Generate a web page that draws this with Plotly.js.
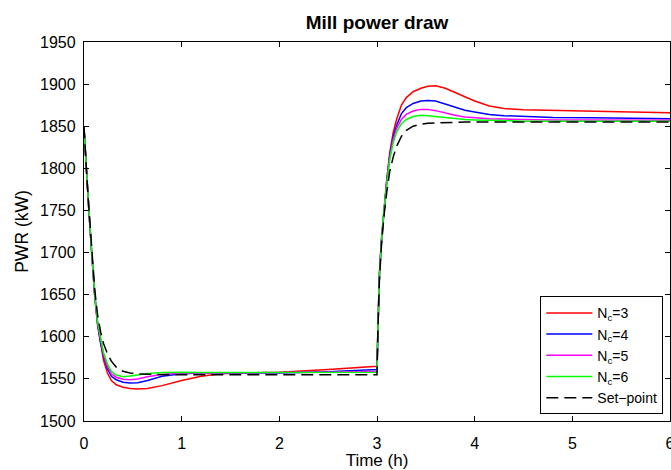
<!DOCTYPE html>
<html>
<head>
<meta charset="utf-8">
<script src="https://cdn.plot.ly/plotly-3.0.1.min.js"></script>
<style>html,body{margin:0;padding:0;background:#fff;}#chart{width:671px;height:470px;}</style>
</head>
<body>
<div id="chart"></div>
<script>
// Time axis (h)
const time = [0, 0.01, 0.03, 0.05, 0.08, 0.11, 0.14, 0.17, 0.20, 0.24, 0.28, 0.33, 0.40, 0.47, 0.55, 0.65, 0.80,
  1.0, 1.2, 1.4, 1.6, 2.0, 2.5, 3.0,
  3.01, 3.025, 3.045, 3.07, 3.1, 3.13, 3.165, 3.2, 3.25, 3.3, 3.37, 3.45, 3.52, 3.6, 3.7, 3.8, 3.9, 4.0,
  4.15, 4.3, 4.5, 4.8, 5.2, 5.6, 6.0];

// Mill power draw (kW) for each control horizon
const pwrNc3 = [1848, 1825, 1785, 1750, 1698, 1648, 1613, 1590, 1572, 1557, 1548, 1543, 1540, 1538.5, 1538, 1538.5, 1542,
  1548, 1553, 1556, 1557, 1558, 1561, 1565,
  1616, 1675, 1715, 1752, 1787, 1818, 1842, 1858, 1875, 1884, 1891, 1895, 1897.5, 1898, 1895, 1890, 1885, 1880,
  1874, 1871, 1869.5, 1869, 1868, 1867, 1866];
const pwrNc4 = [1848, 1825, 1785, 1750, 1698, 1649, 1615, 1593, 1577, 1562, 1553, 1549, 1546, 1545, 1545.5, 1548, 1553,
  1556, 1557, 1557, 1557, 1557, 1558.5, 1561,
  1614, 1674, 1714, 1751, 1785, 1815, 1837, 1851, 1865, 1872, 1877, 1880, 1880.5, 1880, 1876.5, 1872.5, 1869, 1867,
  1864, 1862.5, 1861.5, 1860.5, 1860, 1859.5, 1859];
const pwrNc5 = [1848, 1825, 1785, 1750, 1698, 1650, 1616, 1595, 1579, 1565, 1556, 1552, 1549.5, 1549, 1550, 1552.5, 1555.5,
  1557, 1557, 1557, 1557, 1557.5, 1558, 1559,
  1613, 1673, 1713, 1750, 1784, 1813, 1834, 1847, 1858, 1864, 1868, 1870, 1870, 1868.5, 1865.5, 1863, 1861, 1860,
  1859, 1858.5, 1858, 1857.5, 1857.5, 1857, 1857];
const pwrNc6 = [1848, 1825, 1785, 1750, 1698, 1651, 1617, 1597, 1581, 1568, 1559, 1554.5, 1552.6, 1553.5, 1555, 1556.5, 1557.5,
  1558, 1557.5, 1557.5, 1557.5, 1557.5, 1557.5, 1558,
  1612, 1672, 1712, 1749, 1782, 1810, 1830, 1843, 1853, 1858, 1861.5, 1863, 1862.5, 1861.5, 1860, 1859, 1858, 1857.5,
  1857, 1856.5, 1856, 1856, 1856, 1856, 1856];
const setPoint = [1850, 1826, 1788, 1753, 1702, 1656, 1625, 1606, 1592, 1580, 1571, 1564, 1559, 1557, 1556, 1555.5, 1555,
  1555, 1555, 1555, 1555, 1555, 1555, 1555,
  1610, 1668, 1707, 1742, 1772, 1796, 1813, 1826, 1838, 1845, 1850, 1852.5, 1853.5, 1854, 1854.5, 1855, 1855, 1855,
  1855, 1855, 1855, 1855, 1855, 1855, 1855];

const seriesNames = ['N<sub>c</sub>=3', 'N<sub>c</sub>=4', 'N<sub>c</sub>=5', 'N<sub>c</sub>=6', 'Set\u2212point'];
const xTicks = [0, 1, 2, 3, 4, 5, 6];
const yTicks = [1500, 1550, 1600, 1650, 1700, 1750, 1800, 1850, 1900, 1950];

const FONT = 'Liberation Sans, Arial, Helvetica, sans-serif';
const colors = ['#ff0000', '#0000ff', '#ff00ff', '#00ff00', '#000000'];
const ys = [pwrNc3, pwrNc4, pwrNc5, pwrNc6, setPoint];

const traces = ys.map((y, i) => ({
  x: time, y: y, type: 'scatter', mode: 'lines', name: seriesNames[i],
  line: {color: colors[i], width: 1.5, shape: 'linear', dash: i === 4 ? '12px,6px' : 'solid'}
}));

const axisCommon = {
  showline: true, linecolor: '#000', linewidth: 1.2, mirror: 'ticks',
  ticks: 'inside', ticklen: 5, tickwidth: 1, tickcolor: '#000',
  showgrid: false, zeroline: false, ticklabeloverflow: 'allow',
  tickfont: {family: FONT, size: 16, color: '#000'}
};

const layout = {
  width: 671, height: 470,
  margin: {l: 84, r: 1, t: 42, b: 49},
  paper_bgcolor: '#fff', plot_bgcolor: '#fff',
  title: {text: '<b>Mill power draw</b>', font: {family: FONT, size: 19, color: '#000'},
    x: 0.5, xref: 'paper', xanchor: 'center', y: 1 - 22 / 470, yref: 'container', yanchor: 'middle'},
  xaxis: Object.assign({}, axisCommon, {
    range: [0, 6], tickvals: xTicks, ticktext: xTicks.map(String), ticklabelstandoff: 8,
    title: {text: 'Time (h)', font: {family: FONT, size: 17, color: '#000'}, standoff: 2}
  }),
  yaxis: Object.assign({}, axisCommon, {
    range: [1500, 1950], tickvals: yTicks, ticktext: yTicks.map(String), ticklabelstandoff: 4,
    title: {text: 'PWR (kW)', font: {family: FONT, size: 17.5, color: '#000'}, standoff: 6}
  }),
  legend: {
    x: 0.9886, y: 0.0177, xanchor: 'right', yanchor: 'bottom',
    bgcolor: '#fff', bordercolor: '#000', borderwidth: 1, itemwidth: 46,
    font: {family: FONT, size: 14, color: '#000'}, tracegroupgap: 0
  },
  showlegend: true
};

Plotly.newPlot('chart', traces, layout, {displayModeBar: false, staticPlot: true});
</script>
</body>
</html>
